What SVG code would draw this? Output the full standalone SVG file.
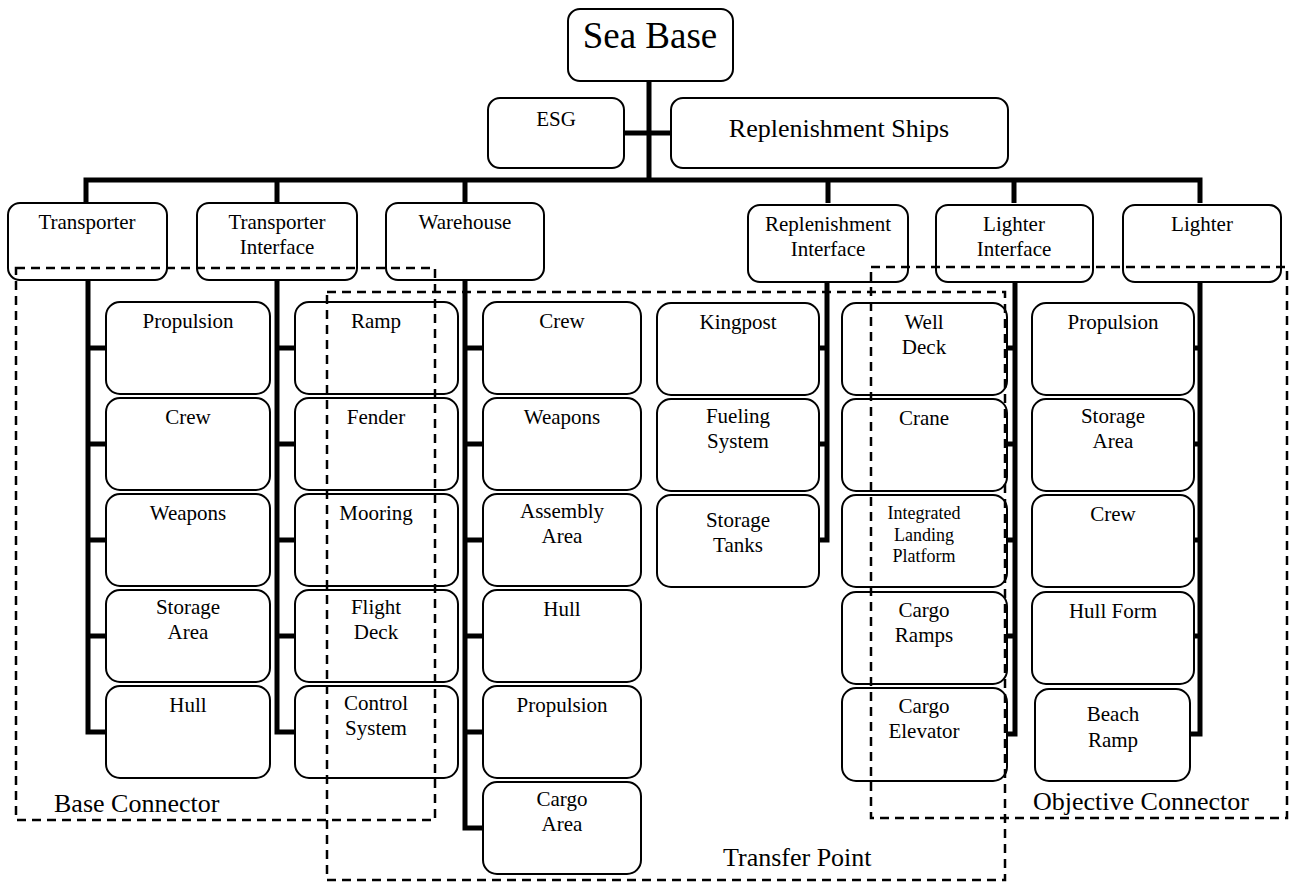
<svg xmlns="http://www.w3.org/2000/svg" width="1291" height="883" viewBox="0 0 1291 883">
<style>
.bx{fill:#fff;stroke:#000;stroke-width:2}
.ln{fill:none;stroke:#000;stroke-width:5;stroke-linejoin:miter}
.dz{fill:none;stroke:#000;stroke-width:2.5;stroke-dasharray:9 6}
text{font-family:"Liberation Serif","Times New Roman",serif;fill:#000;text-anchor:middle}
.t{font-size:21px}
.s{font-size:18px}
.big{font-size:26px;text-anchor:start}
</style>
<rect width="1291" height="883" fill="#fff"/>
<g id="connectors">
<path class="ln" d="M649,81 V180 M624,133 H671 M86,203 V180 H1200 V203 M277,180 V203 M465,180 V203 M828,180 V203 M1014,180 V203"/>
<path class="ln" d="M88,280 V732 H106 M88,348 H106 M88,444 H106 M88,540 H106 M88,636 H106"/>
<path class="ln" d="M277,280 V732 H295 M277,348 H295 M277,444 H295 M277,540 H295 M277,636 H295"/>
<path class="ln" d="M465,280 V828 H483 M465,348 H483 M465,444 H483 M465,540 H483 M465,636 H483 M465,732 H483"/>
<path class="ln" d="M827,282 V540 H819 M827,348 H819 M827,444 H819"/>
<path class="ln" d="M1015,282 V734 H1007 M1015,348 H1007 M1015,444 H1007 M1015,540 H1007 M1015,636 H1007"/>
<path class="ln" d="M1200,282 V734 H1190 M1200,348 H1194 M1200,444 H1194 M1200,540 H1194 M1200,636 H1194"/>
</g>
<g id="sea-base"><rect class="bx" x="568" y="9" width="165" height="72" rx="12"/><text x="650" y="48" style="font-size:37px">Sea Base</text></g>
<g id="esg"><rect class="bx" x="488" y="98" width="136" height="70" rx="12"/><text x="556" y="126" style="font-size:21px">ESG</text></g>
<g id="replenishment-ships"><rect class="bx" x="671" y="98" width="337" height="70" rx="12"/><text x="839" y="137" style="font-size:26px">Replenishment Ships</text></g>
<g id="transporter"><rect class="bx" x="8" y="203" width="159" height="77" rx="12"/><text class="t" x="87" y="229">Transporter</text></g>
<g id="transporter-interface"><rect class="bx" x="197" y="203" width="160" height="77" rx="12"/><text class="t" x="277" y="229">Transporter</text><text class="t" x="277" y="254">Interface</text></g>
<g id="warehouse"><rect class="bx" x="386" y="203" width="158" height="77" rx="12"/><text class="t" x="465" y="229">Warehouse</text></g>
<g id="replenishment-interface"><rect class="bx" x="748" y="205" width="160" height="77" rx="12"/><text class="t" x="828" y="231">Replenishment</text><text class="t" x="828" y="256">Interface</text></g>
<g id="lighter-interface"><rect class="bx" x="936" y="205" width="157" height="77" rx="12"/><text class="t" x="1014" y="231">Lighter</text><text class="t" x="1014" y="256">Interface</text></g>
<g id="lighter"><rect class="bx" x="1123" y="205" width="158" height="77" rx="12"/><text class="t" x="1202" y="231">Lighter</text></g>
<g id="t-propulsion"><rect class="bx" x="106" y="302" width="164" height="92" rx="14"/><text class="t" x="188" y="328">Propulsion</text></g>
<g id="t-crew"><rect class="bx" x="106" y="398" width="164" height="92" rx="14"/><text class="t" x="188" y="424">Crew</text></g>
<g id="t-weapons"><rect class="bx" x="106" y="494" width="164" height="92" rx="14"/><text class="t" x="188" y="520">Weapons</text></g>
<g id="t-storage"><rect class="bx" x="106" y="590" width="164" height="92" rx="14"/><text class="t" x="188" y="614">Storage</text><text class="t" x="188" y="639">Area</text></g>
<g id="t-hull"><rect class="bx" x="106" y="686" width="164" height="92" rx="14"/><text class="t" x="188" y="712">Hull</text></g>
<g id="ti-ramp"><rect class="bx" x="295" y="302" width="163" height="92" rx="14"/><text class="t" x="376" y="328">Ramp</text></g>
<g id="ti-fender"><rect class="bx" x="295" y="398" width="163" height="92" rx="14"/><text class="t" x="376" y="424">Fender</text></g>
<g id="ti-mooring"><rect class="bx" x="295" y="494" width="163" height="92" rx="14"/><text class="t" x="376" y="520">Mooring</text></g>
<g id="ti-flight"><rect class="bx" x="295" y="590" width="163" height="92" rx="14"/><text class="t" x="376" y="614">Flight</text><text class="t" x="376" y="639">Deck</text></g>
<g id="ti-control"><rect class="bx" x="295" y="686" width="163" height="92" rx="14"/><text class="t" x="376" y="710">Control</text><text class="t" x="376" y="735">System</text></g>
<g id="w-crew"><rect class="bx" x="483" y="302" width="158" height="92" rx="14"/><text class="t" x="562" y="328">Crew</text></g>
<g id="w-weapons"><rect class="bx" x="483" y="398" width="158" height="92" rx="14"/><text class="t" x="562" y="424">Weapons</text></g>
<g id="w-assembly"><rect class="bx" x="483" y="494" width="158" height="92" rx="14"/><text class="t" x="562" y="518">Assembly</text><text class="t" x="562" y="543">Area</text></g>
<g id="w-hull"><rect class="bx" x="483" y="590" width="158" height="92" rx="14"/><text class="t" x="562" y="616">Hull</text></g>
<g id="w-propulsion"><rect class="bx" x="483" y="686" width="158" height="92" rx="14"/><text class="t" x="562" y="712">Propulsion</text></g>
<g id="w-cargo"><rect class="bx" x="483" y="782" width="158" height="92" rx="14"/><text class="t" x="562" y="806">Cargo</text><text class="t" x="562" y="831">Area</text></g>
<g id="r-kingpost"><rect class="bx" x="657" y="303" width="162" height="92" rx="14"/><text class="t" x="738" y="329">Kingpost</text></g>
<g id="r-fueling"><rect class="bx" x="657" y="399" width="162" height="92" rx="14"/><text class="t" x="738" y="423">Fueling</text><text class="t" x="738" y="448">System</text></g>
<g id="r-tanks"><rect class="bx" x="657" y="495" width="162" height="92" rx="14"/><text class="t" x="738" y="527">Storage</text><text class="t" x="738" y="552">Tanks</text></g>
<g id="li-well"><rect class="bx" x="842" y="303" width="165" height="92" rx="14"/><text class="t" x="924" y="329">Well</text><text class="t" x="924" y="354">Deck</text></g>
<g id="li-crane"><rect class="bx" x="842" y="399" width="165" height="92" rx="14"/><text class="t" x="924" y="425">Crane</text></g>
<g id="li-ilp"><rect class="bx" x="842" y="495" width="165" height="92" rx="14"/><text class="s" x="924" y="519">Integrated</text><text class="s" x="924" y="541">Landing</text><text class="s" x="924" y="562">Platform</text></g>
<g id="li-ramps"><rect class="bx" x="842" y="592" width="165" height="92" rx="14"/><text class="t" x="924" y="617">Cargo</text><text class="t" x="924" y="642">Ramps</text></g>
<g id="li-elevator"><rect class="bx" x="842" y="688" width="165" height="93" rx="14"/><text class="t" x="924" y="713">Cargo</text><text class="t" x="924" y="738">Elevator</text></g>
<g id="l-propulsion"><rect class="bx" x="1032" y="303" width="162" height="92" rx="14"/><text class="t" x="1113" y="329">Propulsion</text></g>
<g id="l-storage"><rect class="bx" x="1032" y="399" width="162" height="92" rx="14"/><text class="t" x="1113" y="423">Storage</text><text class="t" x="1113" y="448">Area</text></g>
<g id="l-crew"><rect class="bx" x="1032" y="495" width="162" height="92" rx="14"/><text class="t" x="1113" y="521">Crew</text></g>
<g id="l-hullform"><rect class="bx" x="1032" y="592" width="162" height="92" rx="14"/><text class="t" x="1113" y="618">Hull Form</text></g>
<g id="l-beach"><rect class="bx" x="1035" y="689" width="155" height="92" rx="14"/><text class="t" x="1113" y="721">Beach</text><text class="t" x="1113" y="747">Ramp</text></g>
<g id="base-connector"><rect class="dz" x="16" y="268" width="419" height="552"/><text class="big" x="54" y="812">Base Connector</text></g>
<g id="transfer-point"><rect class="dz" x="327" y="292" width="678" height="588"/><text class="big" x="723" y="866">Transfer Point</text></g>
<g id="objective-connector"><rect class="dz" x="871" y="267" width="416" height="551"/><text class="big" x="1033" y="810">Objective Connector</text></g>
</svg>
